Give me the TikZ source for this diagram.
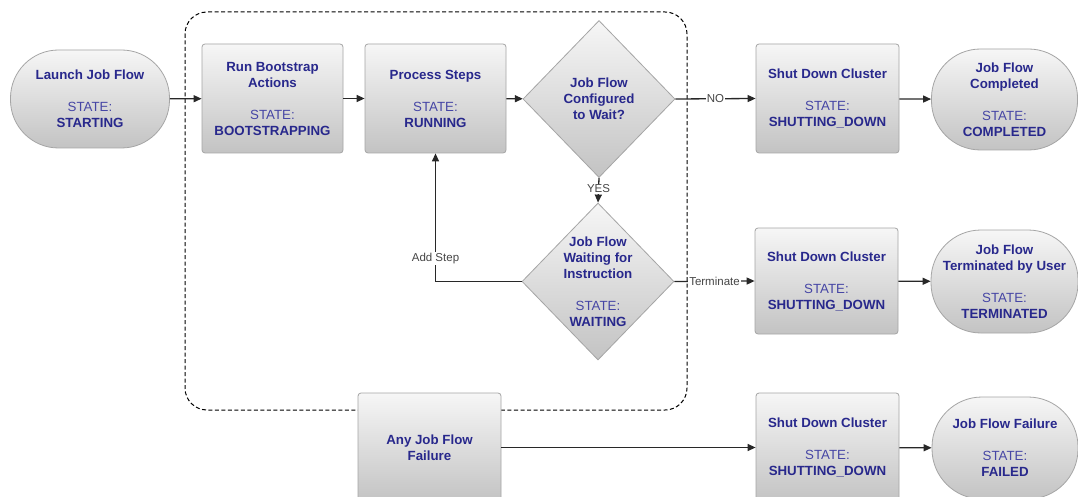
\documentclass[tikz,border=0pt]{standalone}
\usepackage{fontspec}
\setmainfont{Liberation Sans}
\usetikzlibrary{shapes.geometric,arrows.meta}
\definecolor{navy}{RGB}{40,40,140}
\definecolor{stc}{RGB}{70,70,165}
\definecolor{bord}{RGB}{165,165,165}
\definecolor{connc}{RGB}{40,40,40}
\definecolor{lblc}{RGB}{70,70,70}
\newcommand{\stline}[1]{\\[16pt]{\mdseries\color{stc}STATE:}\\#1}
\tikzset{
  base/.style={draw=bord, line width=0.8pt, top color=gray!7, bottom color=gray!47, inner sep=0pt},
  txt/.style={text=navy, align=center, font=\fontsize{13.3}{16}\selectfont\bfseries, inner sep=0pt},
  box/.style={base, txt, rounded corners=3pt, minimum width=141pt, minimum height=109pt},
  stad/.style={base, txt, rounded corners=48pt, minimum width=159pt, minimum height=98pt},
  dia/.style={base, diamond, minimum width=152pt, minimum height=157pt},
  lab/.style={fill=white, inner sep=1pt, text=lblc, font=\fontsize{11.5}{13}\selectfont},
  conn/.style={draw=connc, line width=1.3pt, -{Triangle[length=8pt,width=7pt]}},
}
\begin{document}
\begin{tikzpicture}[x=1pt,y=-1pt]
\useasboundingbox (0,0) rectangle (1078,497);
\clip (0,0) rectangle (1078,497);
\fill[white] (0,0) rectangle (1078,497);
% dashed group
\draw[black, line width=1pt, dash pattern=on 4pt off 2.5pt, rounded corners=22pt] (185,12) rectangle (687,410);

% nodes
\node[stad] (launch) at (90,99) {Launch Job Flow\stline{STARTING}};
\node[box] (boot) at (272.5,98.5) {Run Bootstrap\\Actions\stline{BOOTSTRAPPING}};
\node[box] (proc) at (435.5,98.5) {Process Steps\stline{RUNNING}};
\node[dia] (d1) at (599,99) {};
\node[txt] (d1t) at (d1.center) {Job Flow\\Configured\\to Wait?};
\node[box, minimum width=143pt] (sd1) at (827.5,98.5) {Shut Down Cluster\stline{SHUTTING\_DOWN}};
\node[stad, minimum width=146pt, minimum height=101pt, rounded corners=49pt] (jfc) at (1004.5,99.5) {Job Flow\\Completed\stline{COMPLETED}};

\node[dia] (d2) at (598,281.5) {};
\node[txt] (d2t) at (d2.center) {Job Flow\\Waiting for\\Instruction\stline{WAITING}};
\node[box, minimum width=143pt, minimum height=106pt] (sd2) at (826.5,281) {Shut Down Cluster\stline{SHUTTING\_DOWN}};
\node[stad, minimum width=147pt, minimum height=103pt, rounded corners=50pt] (jft) at (1004.5,281.5) {Job Flow\\Terminated by User\stline{TERMINATED}};

\node[box, minimum width=143pt] (fail) at (429.5,447.5) {Any Job Flow\\Failure};
\node[box, minimum width=143pt] (sd3) at (827.5,447.5) {Shut Down Cluster\stline{SHUTTING\_DOWN}};
\node[stad, minimum width=146pt, minimum height=102pt, rounded corners=50pt] (jff) at (1005,448) {Job Flow Failure\stline{FAILED}};

% connectors
\draw[conn] (launch) -- (boot);
\draw[conn] (boot) -- (proc);
\draw[conn] (proc) -- (d1);
\draw[conn] (d1.east) -- node[lab] (no) {NO} (sd1.west);
\draw[conn] (sd1) -- (jfc);
\draw[conn] (d1.south) -- node[lab, pos=0.45] (yes) {YES} (d2.north);
\draw[conn] (d2.west) -| node[lab, pos=0.59] (add) {Add Step} (proc.south);
\draw[conn] (d2.east) -- node[lab] (term) {Terminate} (sd2.west);
\draw[conn] (sd2) -- (jft);
\draw[conn] (fail.east) -- (sd3.west);
\draw[conn] (sd3) -- (jff);
\end{tikzpicture}
\end{document}
